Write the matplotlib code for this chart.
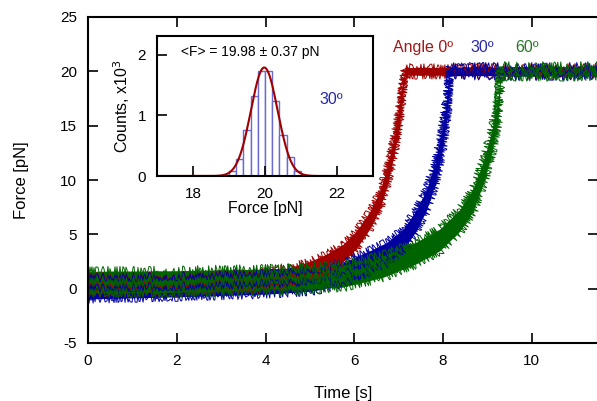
import numpy as np
import matplotlib
matplotlib.use("Agg")
import matplotlib.pyplot as plt

plt.rcParams['font.family'] = ['Liberation Sans', 'DejaVu Sans']
plt.rcParams['axes.unicode_minus'] = False

# force traces (time [s], centre force [pN])
t_red = [0, 2, 4, 4.5, 5.0, 5.38, 5.75, 6.05, 6.35, 6.58, 6.76, 6.91, 7.03, 7.14, 11.5]
f_red = [0.3, 0.4, 0.8, 1.1, 1.7, 2.4, 3.3, 4.5, 6.3, 8.2, 10.6, 13.4, 16.5, 20.0, 20.0]

t_blue = [0, 2, 4, 4.8, 5.15, 5.75, 6.28, 6.73, 7.10, 7.40, 7.63, 7.82, 7.97, 8.08, 8.15, 11.5]
f_blue = [0.0, 0.2, 0.45, 0.65, 0.8, 1.45, 2.4, 3.3, 4.5, 6.3, 8.2, 10.6, 13.4, 16.5, 20.0, 20.0]

t_green = [0, 2, 4, 4.77, 5.75, 6.65, 7.40, 7.93, 8.38, 8.68, 8.90, 9.09, 9.24, 9.30, 11.5]
f_green = [0.6, 0.65, 0.8, 0.9, 1.15, 2.05, 3.3, 4.5, 6.3, 8.2, 10.6, 13.4, 16.5, 20.0, 20.0]

# histogram of the 30 deg plateau
bin_edges = [18.8, 19.0, 19.2, 19.4, 19.6, 19.8, 20.0, 20.2, 20.4, 20.6, 20.8, 21.0, 21.2]
counts = [0.02, 0.08, 0.28, 0.76, 1.32, 1.73, 1.73, 1.23, 0.67, 0.31, 0.08, 0.02]
fit_mean, fit_sd, fit_peak = 19.98, 0.37, 1.79

red = '#a00000'
blue = '#0000a0'
green = '#006400'

fig = plt.figure(figsize=(5.97, 4.01), dpi=100)
ax = fig.add_axes([88/597, 58/401, 510/597, 326/401])


def noisy_trace(ax, t, f, color, base_w, plat_w, fuzz):
    t = np.array(t)
    f = np.array(f)
    w = np.where(f > 19.5, plat_w, base_w)
    ax.fill_between(t, f - w, f + w, color=color, lw=0)
    for y in (f - w, f, f + w):
        ln, = ax.plot(t, y, color=color, lw=0.7)
        ln.set_sketch_params(fuzz, 0.4, 8)


noisy_trace(ax, t_red, f_red, red, 0.8, 0.35, 4.0)
noisy_trace(ax, t_blue, f_blue, blue, 0.95, 0.4, 4.5)
noisy_trace(ax, t_green, f_green, green, 1.0, 0.45, 4.8)

ax.set_xlim(0, 11.49)
ax.set_ylim(-5, 25)
ax.set_xticks([0, 2, 4, 6, 8, 10])
ax.set_yticks([-5, 0, 5, 10, 15, 20, 25])
ax.tick_params(direction='in', length=7, width=1.2, labelsize=11, pad=8,
               top=True, right=True)
for s in ax.spines.values():
    s.set_linewidth(1.5)
ax.set_xlabel('Time [s]', fontsize=12, labelpad=13)
ax.set_ylabel('Force [pN]', fontsize=12, labelpad=22)

ax.text(7.55, 22.2, 'Angle 0º', color='#a01818', fontsize=11.5, ha='center', va='center')
ax.text(8.88, 22.2, '30º', color='#2828aa', fontsize=11.5, ha='center', va='center')
ax.text(9.9, 22.2, '60º', color='#287828', fontsize=11.5, ha='center', va='center')

# inset histogram
ins = fig.add_axes([157/597, 225/401, 216/597, 140/401])
ins.bar(bin_edges[:-1], counts, width=0.2, align='edge', facecolor='white',
        edgecolor='#6a6ad0', lw=1)
xs = np.linspace(17, 23, 400)
ins.plot(xs, fit_peak * np.exp(-(xs - fit_mean) ** 2 / (2 * fit_sd ** 2)), color='#a00000', lw=1.5)
ins.set_xlim(17, 23)
ins.set_ylim(0, 2.31)
ins.set_xticks([18, 20, 22])
ins.set_yticks([0, 1, 2])
ins.tick_params(direction='in', length=7, width=1.2, labelsize=11, pad=8)
for s in ins.spines.values():
    s.set_linewidth(1.5)
ins.set_xlabel('Force [pN]', fontsize=11.5, labelpad=0)
ins.set_ylabel('Counts, x10$^3$', fontsize=11.5, labelpad=4)
ins.text(19.58, 2.05, '<F> = 19.98 ± 0.37 pN', fontsize=10, ha='center', va='center')
ins.text(21.83, 1.26, '30º', color='#2828aa', fontsize=11.5, ha='center', va='center')

fig.savefig('out.png', dpi=100)
